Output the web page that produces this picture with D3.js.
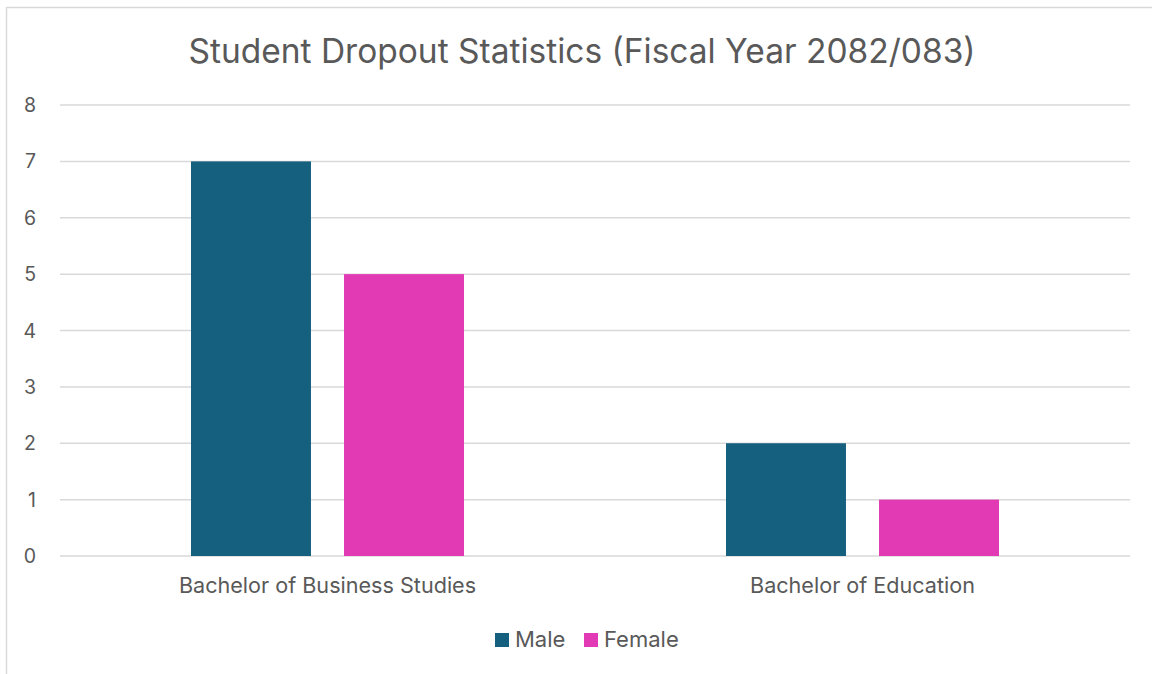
<!DOCTYPE html>
<html>
<head>
<meta charset="utf-8">
<script src="https://cdn.jsdelivr.net/npm/d3@7"></script>
<style>
  body { margin: 0; background: #fff; }
  text { font-family: Inter, "Open Sans", sans-serif; fill: #595959; }
</style>
</head>
<body>
<div id="chart"></div>
<script>
// data
const categories = ["Bachelor of Business Studies", "Bachelor of Education"];
const seriesNames = ["Male", "Female"];
const maleValues = [7, 2];
const femaleValues = [5, 1];
const yTicks = [0, 1, 2, 3, 4, 5, 6, 7, 8];
const colors = ["#16607f", "#e13ab4"];

const width = 1152, height = 674;
const margin = {top: 105, right: 22, bottom: 118, left: 60};

const svg = d3.select("#chart").append("svg")
    .attr("width", width)
    .attr("height", height);

// chart border
svg.append("rect")
    .attr("x", 6.5).attr("y", 7.5)
    .attr("width", width + 10).attr("height", height + 10)
    .attr("fill", "none")
    .attr("stroke", "#d9d9d9")
    .attr("stroke-width", 1.5);

svg.append("text")
    .attr("x", 582).attr("y", 63)
    .attr("text-anchor", "middle")
    .style("font-size", "33.5px")
    .text("Student Dropout Statistics (Fiscal Year 2082/083)");

const y = d3.scaleLinear().domain([0, 8]).range([height - margin.bottom, margin.top]);
const x0 = d3.scaleBand().domain(categories).range([margin.left, width - margin.right]);
const x1 = d3.scaleBand().domain(seriesNames).range([0, x0.bandwidth()])
    .paddingInner(0.216).paddingOuter(0.856);

// gridlines
svg.append("g").selectAll("line")
    .data(yTicks).enter().append("line")
    .attr("x1", margin.left).attr("x2", width - margin.right)
    .attr("y1", d => y(d)).attr("y2", d => y(d))
    .attr("stroke", "#d9d9d9").attr("stroke-width", 1.5);

svg.append("g").selectAll("text")
    .data(yTicks).enter().append("text")
    .attr("x", 36).attr("y", d => y(d) + 7)
    .attr("text-anchor", "end")
    .style("font-size", "19.5px")
    .text(d => d);

const rows = categories.map((c, i) => ({cat: c, vals: [maleValues[i], femaleValues[i]]}));

const groups = svg.append("g").selectAll("g")
    .data(rows).enter().append("g")
    .attr("transform", d => "translate(" + x0(d.cat) + ",0)");

groups.selectAll("rect")
    .data(d => d.vals.map((v, j) => ({name: seriesNames[j], value: v, color: colors[j]})))
    .enter().append("rect")
    .attr("x", d => x1(d.name))
    .attr("width", x1.bandwidth())
    .attr("y", d => y(d.value))
    .attr("height", d => y(0) - y(d.value))
    .attr("fill", d => d.color);

// category labels
svg.append("g").selectAll("text")
    .data(categories).enter().append("text")
    .attr("x", d => x0(d) + x0.bandwidth() / 2)
    .attr("y", 593)
    .attr("text-anchor", "middle")
    .style("font-size", "21.6px")
    .text(d => d);

// legend
const legendX = [495, 584];
const legend = svg.append("g").selectAll("g")
    .data(seriesNames).enter().append("g")
    .attr("transform", (d, i) => "translate(" + legendX[i] + ",633)");
legend.append("rect")
    .attr("width", 14).attr("height", 14)
    .attr("fill", (d, i) => colors[i]);
legend.append("text")
    .attr("x", 20).attr("y", 14)
    .style("font-size", "22px")
    .text(d => d);
</script>
</body>
</html>
